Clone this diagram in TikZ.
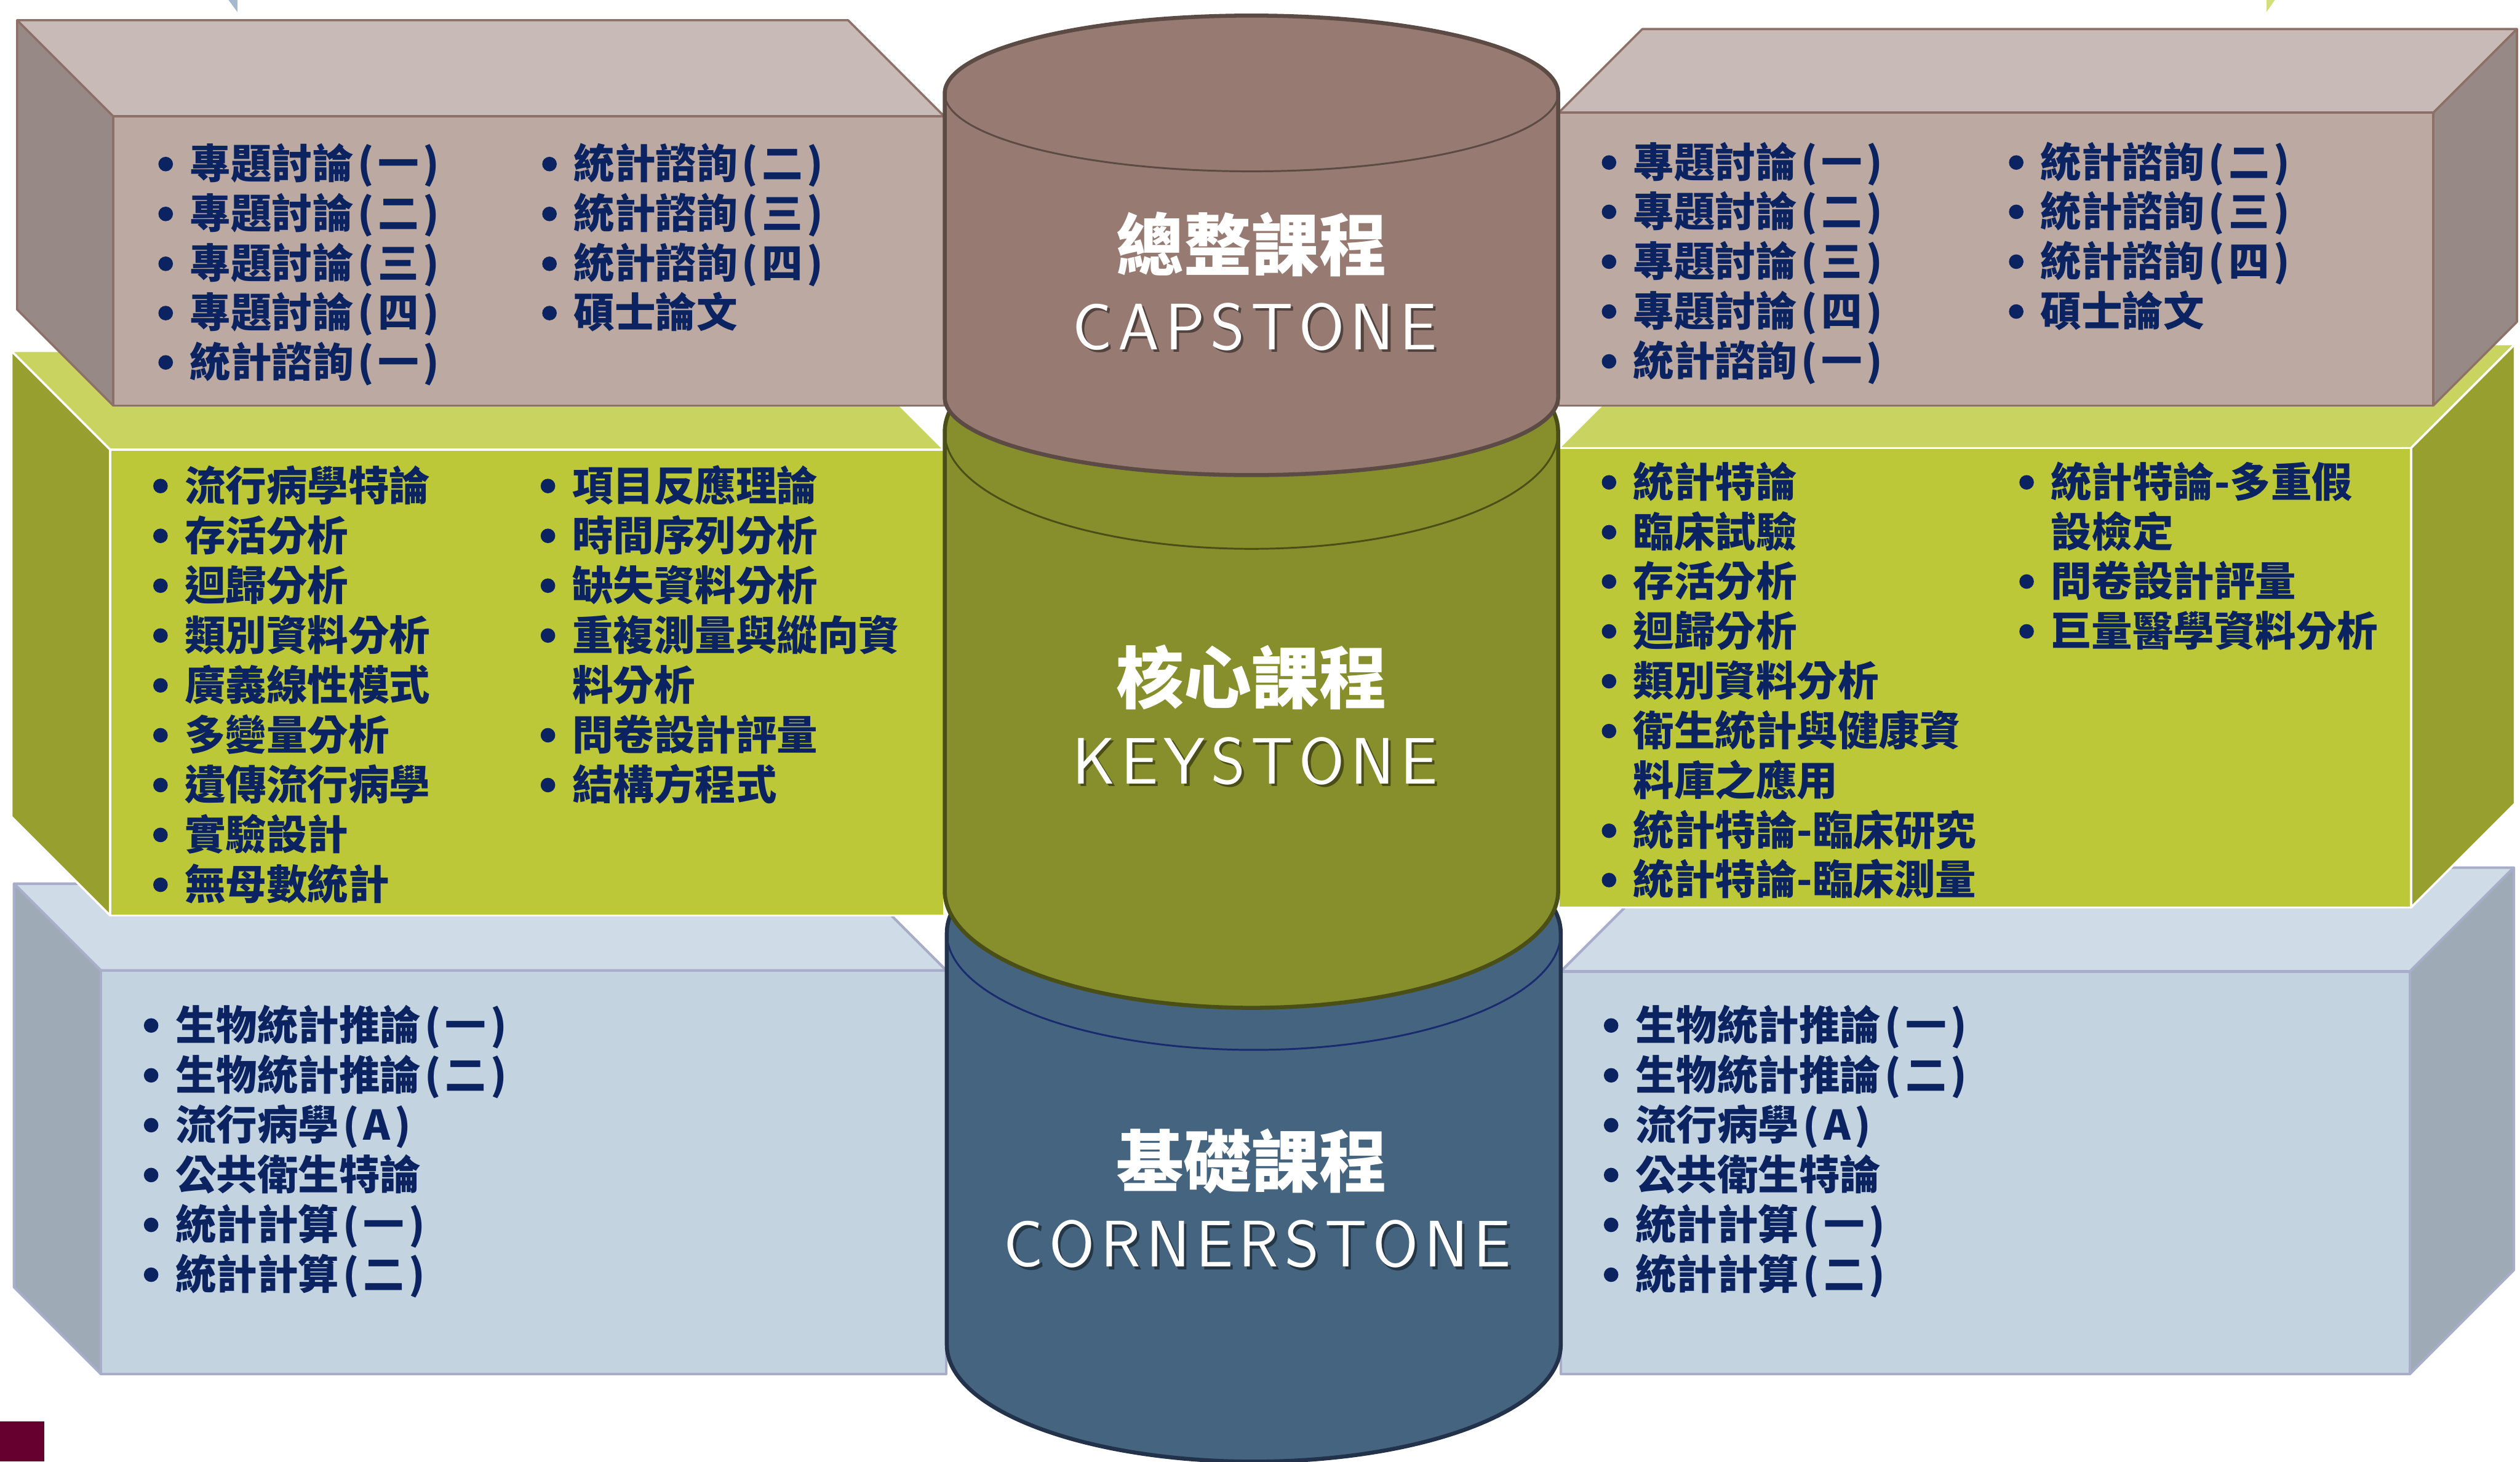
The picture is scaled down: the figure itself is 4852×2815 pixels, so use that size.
\documentclass[tikz,border=0pt]{standalone}
\usepackage{fontspec}
\newfontfamily\zh{Noto Sans CJK TC}
\newfontfamily\hand{Latin Modern Sans}[LetterSpace=9]
\definecolor{brTop}{HTML}{C8BAB6}
\definecolor{brFront}{HTML}{BBA9A2}
\definecolor{brSide}{HTML}{978A86}
\definecolor{brEdge}{HTML}{8D7169}
\definecolor{capFill}{HTML}{977B72}
\definecolor{capLine}{HTML}{5C4A45}
\definecolor{grTop}{HTML}{C9D35F}
\definecolor{grFront}{HTML}{BCC838}
\definecolor{grSide}{HTML}{979F2E}
\definecolor{keyFill}{HTML}{878E2C}
\definecolor{keyLine}{HTML}{4A4F18}
\definecolor{blTop}{HTML}{CFDBE6}
\definecolor{blFront}{HTML}{C3D3E0}
\definecolor{blSide}{HTML}{9EAAB6}
\definecolor{blEdge}{HTML}{A8AECA}
\definecolor{corFill}{HTML}{45647F}
\definecolor{corLine}{HTML}{22324A}
\definecolor{corInner}{HTML}{1A2A6E}
\definecolor{navy}{HTML}{0B2461}
\definecolor{darkred}{HTML}{66002F}
% left box: front x1 y1 x2 y2, depth, colour prefix
\newcommand\lbox[6]{%
  \filldraw[#6top] (#1,#2) -- (#3,#2) -- (#3-#5,#2-#5) -- (#1-#5,#2-#5) -- cycle;
  \filldraw[#6side] (#1-#5,#2-#5) -- (#1,#2) -- (#1,#4) -- (#1-#5,#4-#5) -- cycle;
  \filldraw[#6front] (#1,#2) rectangle (#3,#4);}
% right box
\newcommand\rbox[6]{%
  \filldraw[#6top] (#1,#2) -- (#3,#2) -- (#3+#5,#2-#5) -- (#1+#5,#2-#5) -- cycle;
  \filldraw[#6side] (#3,#2) -- (#3+#5,#2-#5) -- (#3+#5,#4-#5) -- (#3,#4) -- cycle;
  \filldraw[#6front] (#1,#2) rectangle (#3,#4);}
% cylinder: x1 x2 topc botc ry fill line inner
\newcommand\can[8]{%
  \path[fill=#6] (#1,#3) -- (#1,#4) arc[start angle=180,end angle=0,x radius={(#2-#1)/2},y radius=#5]
     -- (#2,#3) arc[start angle=0,end angle=-180,x radius={(#2-#1)/2},y radius=#5] -- cycle;
  \draw[#8, line width=1pt] (#1,#3) arc[start angle=180,end angle=0,x radius={(#2-#1)/2},y radius=#5];
  \draw[#7, line width=2.2pt, line join=round] (#1,#3) -- (#1,#4) arc[start angle=180,end angle=0,x radius={(#2-#1)/2},y radius=#5]
     -- (#2,#3) arc[start angle=0,end angle=-180,x radius={(#2-#1)/2},y radius=#5] -- cycle;}
\newcommand\li[4]{\fill[navy] (#2,#3) circle (14); \node[itm] (#1) at (#2+46,#3) {#4};}
\newcommand\lc[4]{\node[itm] (#1) at (#2,#3) {#4};}
\newcommand\pp[1]{\kern0.1em(\kern0.1em#1\kern0.1em)\kern0.1em}
\begin{document}
\begin{tikzpicture}[x=0.01cm,y={(0cm,-0.01cm)},
  brtop/.style={fill=brTop,draw=brEdge,line width=1.2pt,line join=round},
  brside/.style={fill=brSide,draw=brEdge,line width=1.2pt,line join=round},
  brfront/.style={fill=brFront,draw=brEdge,line width=1.2pt,line join=round},
  grtop/.style={fill=grTop,draw=white,line width=1.2pt,line join=round},
  grside/.style={fill=grSide,draw=white,line width=1.2pt,line join=round},
  grfront/.style={fill=grFront,draw=white,line width=1.2pt,line join=round},
  bltop/.style={fill=blTop,draw=blEdge,line width=1.4pt,line join=round},
  blside/.style={fill=blSide,draw=blEdge,line width=1.4pt,line join=round},
  blfront/.style={fill=blFront,draw=blEdge,line width=1.4pt,line join=round},
  itm/.style={anchor=west,text=navy,inner sep=0pt,text height=18.7pt,text depth=2.6pt,
     font=\zh\bfseries\fontsize{22.4pt}{26pt}\selectfont},
  ttl/.style={text=white,inner sep=0pt,font=\zh\bfseries\fontsize{37pt}{40pt}\selectfont},
  eng/.style={text=white,inner sep=0pt,font=\hand\fontsize{36pt}{38pt}\selectfont},
  shd/.style={text=black,opacity=0.45,inner sep=0pt,font=\hand\fontsize{36pt}{38pt}\selectfont}]
\useasboundingbox (0,0) rectangle (4852,2815);
% slivers at the top edge and the square at bottom left
\fill[fill={rgb,255:red,163;green,185;blue,208}] (440,0) -- (457,0) -- (457,23) -- cycle;
\fill[fill={rgb,255:red,212;green,222;blue,122}] (4364,0) -- (4380,0) -- (4364,23) -- cycle;
\fill[darkred] (0,2738) rectangle (85,2815);
% boxes
\lbox{194}{1869}{1822}{2646}{167}{bl}
\rbox{3005}{1871}{4640}{2646}{200}{bl}
\lbox{212}{866}{1818}{1763}{190}{gr}
\rbox{3001}{863}{4642}{1748}{200}{gr}
\lbox{218}{224}{1818}{781}{185}{br}
\rbox{3001}{217}{4685}{781}{161}{br}
% cylinders
\can{1823}{3005}{1797}{2590}{225}{corFill}{corLine}{corInner}
\can{1819}{3000}{832}{1716}{225}{keyFill}{keyLine}{keyLine}
\can{1819}{3000}{180}{765}{150}{capFill}{capLine}{capLine}
% titles
\node[ttl] (capT) at (2410,470) {總整課程};
\node[shd] (capS) at (2421,634) {CAPSTONE};
\node[eng] (capE) at (2416,629) {CAPSTONE};
\node[ttl] (keyT) at (2410,1304) {核心課程};
\node[shd] (keyS) at (2421,1471) {KEYSTONE};
\node[eng] (keyE) at (2416,1466) {KEYSTONE};
\node[ttl] (corT) at (2410,2237) {基礎課程};
\node[shd] (corS) at (2426,2401) {CORNERSTONE};
\node[eng] (corE) at (2421,2396) {CORNERSTONE};
% brown left
\li{a1}{319}{316}{專題討論\pp{一}}
\li{a2}{319}{412}{專題討論\pp{二}}
\li{a3}{319}{508}{專題討論\pp{三}}
\li{a4}{319}{603}{專題討論\pp{四}}
\li{a5}{319}{698}{統計諮詢\pp{一}}
\li{a6}{1058}{316}{統計諮詢\pp{二}}
\li{a7}{1058}{412}{統計諮詢\pp{三}}
\li{a8}{1058}{508}{統計諮詢\pp{四}}
\li{a9}{1058}{603}{碩士論文}
% brown right
\li{b1}{3098}{313}{專題討論\pp{一}}
\li{b2}{3098}{408}{專題討論\pp{二}}
\li{b3}{3098}{504}{專題討論\pp{三}}
\li{b4}{3098}{600}{專題討論\pp{四}}
\li{b5}{3098}{696}{統計諮詢\pp{一}}
\li{b6}{3882}{313}{統計諮詢\pp{二}}
\li{b7}{3882}{408}{統計諮詢\pp{三}}
\li{b8}{3882}{504}{統計諮詢\pp{四}}
\li{b9}{3882}{600}{碩士論文}
% green left
\li{c1}{309}{936}{流行病學特論}
\li{c2}{309}{1032}{存活分析}
\li{c3}{309}{1128}{迴歸分析}
\li{c4}{309}{1224}{類別資料分析}
\li{c5}{309}{1320}{廣義線性模式}
\li{c6}{309}{1416}{多變量分析}
\li{c7}{309}{1512}{遺傳流行病學}
\li{c8}{309}{1608}{實驗設計}
\li{c9}{309}{1704}{無母數統計}
\li{c10}{1055}{936}{項目反應理論}
\li{c11}{1055}{1032}{時間序列分析}
\li{c12}{1055}{1128}{缺失資料分析}
\li{c13}{1055}{1224}{重複測量與縱向資}
\lc{c14}{1101}{1320}{料分析}
\li{c15}{1055}{1416}{問卷設計評量}
\li{c16}{1055}{1512}{結構方程式}
% green right
\li{d1}{3098}{929}{統計特論}
\li{d2}{3098}{1025}{臨床試驗}
\li{d3}{3098}{1120}{存活分析}
\li{d4}{3098}{1216}{迴歸分析}
\li{d5}{3098}{1312}{類別資料分析}
\li{d6}{3098}{1408}{衛生統計與健康資}
\lc{d7}{3144}{1504}{料庫之應用}
\li{d8}{3098}{1600}{統計特論-臨床研究}
\li{d9}{3098}{1695}{統計特論-臨床測量}
\li{d10}{3902}{929}{統計特論-多重假}
\lc{d11}{3948}{1025}{設檢定}
\li{d12}{3902}{1120}{問卷設計評量}
\li{d13}{3902}{1216}{巨量醫學資料分析}
% blue left
\li{e1}{291}{1975}{生物統計推論\pp{一}}
\li{e2}{291}{2071}{生物統計推論\pp{二}}
\li{e3}{291}{2167}{流行病學\pp{A}}
\li{e4}{291}{2263}{公共衛生特論}
\li{e5}{291}{2359}{統計計算\pp{一}}
\li{e6}{291}{2455}{統計計算\pp{二}}
% blue right
\li{f1}{3102}{1975}{生物統計推論\pp{一}}
\li{f2}{3102}{2071}{生物統計推論\pp{二}}
\li{f3}{3102}{2167}{流行病學\pp{A}}
\li{f4}{3102}{2263}{公共衛生特論}
\li{f5}{3102}{2359}{統計計算\pp{一}}
\li{f6}{3102}{2455}{統計計算\pp{二}}
\end{tikzpicture}
\end{document}
